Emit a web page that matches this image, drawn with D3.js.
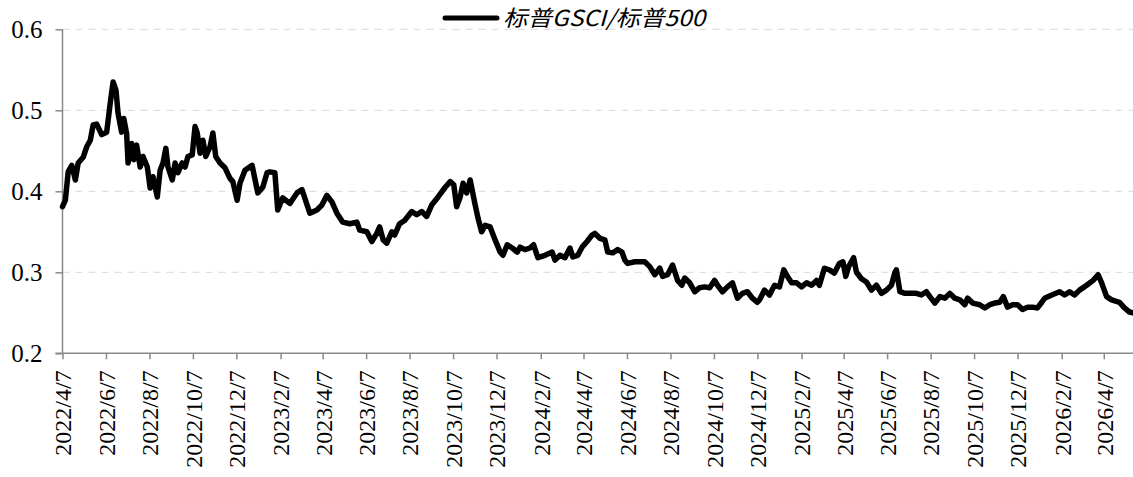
<!DOCTYPE html>
<html lang="zh">
<head>
<meta charset="UTF-8">
<title>标普GSCI/标普500</title>
<script src="https://d3js.org/d3.v7.min.js"></script>
<style>
  body { margin: 0; background: #fff; }
  .grid line { stroke: #d9d9d9; stroke-width: 1; stroke-dasharray: 7,6; }
  .axis path, .axis line { stroke: #898989; stroke-width: 1.5; }
  .series { fill: none; stroke: #000; stroke-width: 5.5; stroke-linejoin: round; stroke-linecap: round; }
</style>
</head>
<body>
<div id="chart"></div>
<script>
// days after 2022/4/7 and ratio values
const startDate = new Date(2022, 3, 7);
const endDate = new Date(2026, 4, 18);
const dayOffsets = [0, 4, 8, 13, 18, 22, 29, 34, 39, 43, 48, 55, 62, 67, 71, 75, 78, 83, 86, 90,
  92, 97, 100, 104, 109, 113, 119, 123, 127, 133, 137, 141, 145, 148, 154, 158, 162, 168, 172, 176,
  182, 186, 189, 193, 197, 201, 207, 211, 215, 221, 228, 235, 239, 245, 249, 256, 266, 274, 281, 287,
  291, 298, 302, 309, 319, 329, 336, 347, 357, 364, 371, 378, 385, 393, 403, 413, 417, 427, 434, 441,
  445, 450, 455, 462, 466, 473, 480, 490, 497, 504, 511, 518, 527, 537, 544, 549, 553, 558, 562, 567,
  572, 579, 583, 588, 593, 600, 607, 614, 618, 624, 631, 638, 642, 649, 656, 661, 667, 677, 687, 691,
  698, 705, 712, 716, 723, 729, 736, 743, 747, 754, 761, 765, 772, 779, 785, 789, 793, 803, 810, 817,
  824, 831, 838, 842, 849, 856, 863, 869, 873, 880, 887, 894, 901, 908, 915, 919, 926, 933, 940, 947,
  954, 961, 968, 975, 978, 985, 992, 999, 1006, 1012, 1017, 1023, 1030, 1037, 1044, 1051, 1058, 1062, 1069, 1076,
  1083, 1090, 1095, 1099, 1103, 1110, 1114, 1121, 1128, 1135, 1142, 1149, 1156, 1163, 1168, 1170, 1175, 1182, 1191, 1198,
  1205, 1212, 1217, 1224, 1231, 1238, 1245, 1252, 1259, 1266, 1270, 1277, 1287, 1294, 1301, 1308, 1315, 1320, 1326, 1333,
  1340, 1347, 1354, 1361, 1368, 1374, 1378, 1388, 1399, 1406, 1413, 1420, 1427, 1437, 1446, 1453, 1458, 1465, 1472, 1483,
  1490, 1497, 1502];
const ratio = [0.381, 0.389, 0.424, 0.432, 0.414, 0.435, 0.442, 0.455, 0.463, 0.482, 0.483, 0.470, 0.473, 0.509, 0.535, 0.525, 0.496, 0.473, 0.490, 0.471,
  0.435, 0.459, 0.439, 0.457, 0.430, 0.443, 0.430, 0.404, 0.418, 0.393, 0.426, 0.435, 0.453, 0.430, 0.414, 0.435, 0.423, 0.435, 0.430, 0.443,
  0.445, 0.480, 0.472, 0.447, 0.463, 0.443, 0.455, 0.472, 0.443, 0.435, 0.429, 0.416, 0.412, 0.389, 0.410, 0.426, 0.432, 0.398, 0.405, 0.423,
  0.424, 0.423, 0.377, 0.392, 0.385, 0.398, 0.402, 0.373, 0.377, 0.383, 0.395, 0.387, 0.373, 0.362, 0.360, 0.362, 0.352, 0.350, 0.338, 0.348,
  0.356, 0.340, 0.336, 0.350, 0.346, 0.360, 0.364, 0.375, 0.371, 0.375, 0.369, 0.383, 0.393, 0.405, 0.412, 0.408, 0.381, 0.393, 0.410, 0.398,
  0.414, 0.383, 0.367, 0.350, 0.358, 0.356, 0.340, 0.325, 0.321, 0.334, 0.330, 0.325, 0.331, 0.328, 0.330, 0.334, 0.318, 0.321, 0.325, 0.315,
  0.321, 0.318, 0.330, 0.319, 0.321, 0.331, 0.338, 0.346, 0.348, 0.342, 0.340, 0.325, 0.324, 0.328, 0.325, 0.315, 0.311, 0.313, 0.313, 0.313,
  0.307, 0.297, 0.305, 0.295, 0.297, 0.309, 0.290, 0.284, 0.293, 0.287, 0.276, 0.281, 0.282, 0.281, 0.290, 0.284, 0.276, 0.282, 0.287, 0.268,
  0.274, 0.276, 0.268, 0.263, 0.266, 0.278, 0.272, 0.284, 0.282, 0.303, 0.295, 0.287, 0.287, 0.282, 0.287, 0.284, 0.290, 0.284, 0.305, 0.303,
  0.299, 0.311, 0.313, 0.295, 0.307, 0.318, 0.300, 0.292, 0.288, 0.278, 0.284, 0.274, 0.278, 0.284, 0.300, 0.303, 0.276, 0.274, 0.274, 0.274,
  0.272, 0.276, 0.270, 0.262, 0.270, 0.268, 0.274, 0.268, 0.266, 0.260, 0.268, 0.262, 0.260, 0.256, 0.260, 0.262, 0.263, 0.270, 0.257, 0.260,
  0.260, 0.254, 0.257, 0.257, 0.256, 0.263, 0.268, 0.272, 0.276, 0.272, 0.276, 0.272, 0.278, 0.284, 0.290, 0.297, 0.287, 0.270, 0.266, 0.263,
  0.256, 0.251, 0.250];
const yTicks = [0.2, 0.3, 0.4, 0.5, 0.6];
const xTickLabels = ["2022/4/7", "2022/6/7", "2022/8/7", "2022/10/7", "2022/12/7", "2023/2/7", "2023/4/7",
  "2023/6/7", "2023/8/7", "2023/10/7", "2023/12/7", "2024/2/7", "2024/4/7", "2024/6/7", "2024/8/7",
  "2024/10/7", "2024/12/7", "2025/2/7", "2025/4/7", "2025/6/7", "2025/8/7", "2025/10/7", "2025/12/7",
  "2026/2/7", "2026/4/7"];
const seriesName = "标普GSCI/标普500";

const width = 1133, height = 477;
const plot = { left: 62.5, right: 1133, top: 29.3, bottom: 353.3 };
const serif = '"Liberation Serif", "DejaVu Serif", serif';

const data = dayOffsets.map((d, i) => ({ date: d3.timeDay.offset(startDate, d), v: ratio[i] }));
const parse = d3.timeParse("%Y/%-m/%-d");
const tickDates = xTickLabels.map(parse);

const x = d3.scaleTime().domain([startDate, endDate]).range([plot.left, plot.right]);
const y = d3.scaleLinear().domain([0.2, 0.6]).range([plot.bottom, plot.top]);

const svg = d3.select('#chart').append('svg')
  .attr('width', width).attr('height', height)
  .style('display', 'block');

svg.append('g').attr('class', 'grid')
  .selectAll('line').data(yTicks.filter(t => t > 0.2)).join('line')
  .attr('x1', plot.left).attr('x2', plot.right)
  .attr('y1', d => y(d)).attr('y2', d => y(d));

// y axis
const yAxis = svg.append('g').attr('class', 'axis')
  .attr('transform', `translate(${plot.left},0)`)
  .call(d3.axisLeft(y).tickValues(yTicks).tickSize(7).tickPadding(13).tickFormat(d3.format('.1f')));
yAxis.attr('font-family', serif).attr('font-size', 25);
yAxis.select('.domain').attr('d', `M0,${plot.bottom}V${plot.top}`);
yAxis.selectAll('text').attr('fill', '#000');

// x axis
const xAxis = svg.append('g').attr('class', 'axis')
  .attr('transform', `translate(0,${plot.bottom})`)
  .call(d3.axisBottom(x).tickValues(tickDates).tickSize(6).tickFormat((d, i) => xTickLabels[i]));
xAxis.attr('font-family', serif).attr('font-size', 24);
xAxis.select('.domain').attr('d', `M${plot.left - 7},0H${plot.right}`);
xAxis.selectAll('text')
  .attr('fill', '#000')
  .attr('transform', 'rotate(-90)')
  .attr('text-anchor', 'end')
  .attr('x', -17)
  .attr('y', 0)
  .attr('dy', '0.35em');

const line = d3.line().x(d => x(d.date)).y(d => y(d.v));
svg.append('path').datum(data).attr('class', 'series').attr('d', line);

// legend
const legend = svg.append('g').attr('class', 'legend');
legend.append('line')
  .attr('x1', 445).attr('x2', 497).attr('y1', 18).attr('y2', 18)
  .attr('stroke', '#000').attr('stroke-width', 5).attr('stroke-linecap', 'round');
legend.append('text')
  .attr('x', 503).attr('y', 26)
  .attr('font-family', '"Noto Sans CJK SC", sans-serif')
  .attr('font-style', 'italic')
  .attr('font-size', 22)
  .attr('textLength', 202).attr('lengthAdjust', 'spacingAndGlyphs')
  .text(seriesName);
</script>
</body>
</html>
